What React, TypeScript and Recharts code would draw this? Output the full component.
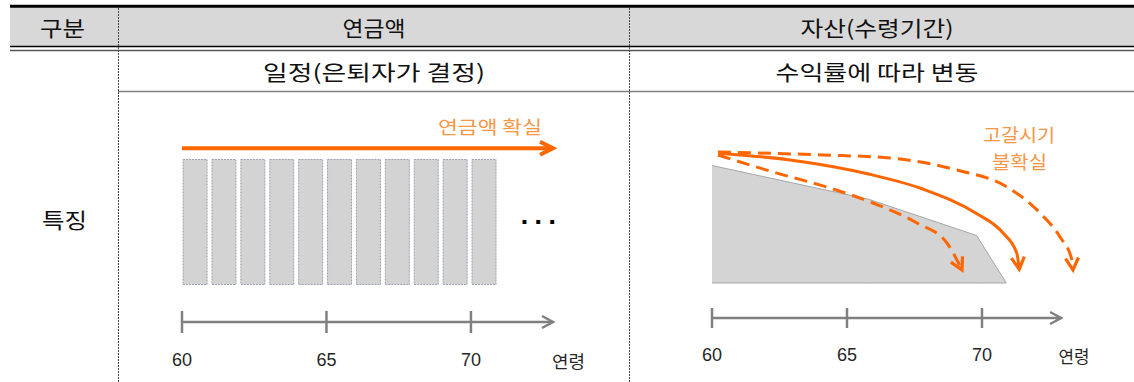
import React from 'react';
import { ComposedChart, Bar, Line, Area, XAxis, YAxis, ReferenceLine } from 'recharts';

// ---- table texts ----
const headerLabels = ['구분', '연금액', '자산(수령기간)'];
const subLabels = ['일정(은퇴자가 결정)', '수익률에 따라 변동'];
const rowLabel = '특징';
const axisTitle = '연령';
const ageTicks = [60, 65, 70];

// ---- left panel: annuity (fixed payments) ----
const annuityAges = [60, 61, 62, 63, 64, 65, 66, 67, 68, 69, 70];
const annuityBase = [3, 3, 3, 3, 3, 3, 3, 3, 3, 3, 3];
const annuityTop = [13, 13, 13, 13, 13, 13, 13, 13, 13, 13, 13];
const annuityNote = '연금액 확실';
const certainArrowX = [60, 72.84];
const certainArrowY = [13.9, 13.9];
const annuityAxisEnd = 72.84;

// ---- right panel: drawdown of assets ----
const assetAges = [60, 65.8, 69.8, 70.9];
const assetTop = [12.2, 9.5, 6.6, 2.8];
const assetBase = [2.8, 2.8, 2.8, 2.8];
const expectedX = [60.23, 62.89, 65.79, 67.83, 69.78, 70.79, 71.29, 71.38];
const expectedY = [13.18, 12.64, 11.52, 10.3, 8.38, 6.78, 5.18, 3.9];
const optimisticX = [60.22, 64.11, 66.59, 69.07, 70.93, 72.15, 72.89, 73.33, 73.37];
const optimisticY = [13.28, 13.04, 12.8, 11.84, 10.48, 8.4, 6.48, 4.64, 3.84];
const pessimisticX = [60.22, 62.26, 64.37, 65.96, 67.59, 68.7, 69.26];
const pessimisticY = [13.04, 11.68, 10.4, 9.2, 7.6, 6.0, 3.84];
const depletionNote = ['고갈시기', '불확실'];
const assetAxisEnd = 72.93;

const ORANGE = '#ff6600';
const ORANGE_TEXT = '#f79646';
const AXIS_GRAY = '#808080';
const KR = '"Noto Sans CJK KR", "Noto Sans", sans-serif';
const NUM = '"Liberation Sans", Arial, sans-serif';

const BAR_OFFSET = 0.44;
const BAR_WIDTH = 24;

const toPts = (xs: number[], ys: number[]) => xs.map((x, i) => ({ x, y: ys[i] }));

const annuityData = annuityAges.map((a, i) => ({ x: a + BAR_OFFSET, range: [annuityBase[i], annuityTop[i]] }));
const certainArrow = toPts(certainArrowX, certainArrowY);
const assetData = assetAges.map((a, i) => ({ x: a, band: [assetBase[i], assetTop[i]] }));
const expected = toPts(expectedX, expectedY);
const optimistic = toPts(optimisticX, optimisticY);
const pessimistic = toPts(pessimisticX, pessimisticY);

const AgeTick = (props: any) => {
  const { x, y, payload, reach, gap } = props;
  return (
    <g>
      <line x1={x} x2={x} y1={y - reach} y2={y + reach} stroke={AXIS_GRAY} strokeWidth={2.5} />
      <text x={x} y={y + gap} textAnchor="middle" dominantBaseline="central" fontFamily={NUM} fontSize={18} fill="#262626">
        {payload.value}
      </text>
    </g>
  );
};

const PaymentBar = (props: any) => {
  const { x, y, width, height } = props;
  const cx = x + width / 2;
  return (
    <rect x={cx - BAR_WIDTH / 2} y={y} width={BAR_WIDTH} height={height} fill="#d3d3d3" stroke="#9ca2b3" strokeWidth={1} strokeDasharray="2 1" />
  );
};

const Markers = ({ p }: { p: string }) => (
  <defs>
    <marker id={`${p}-ax`} markerUnits="userSpaceOnUse" viewBox="-2 -2 16 16" markerWidth={16} markerHeight={16} refX={11} refY={6} orient="auto">
      <path d="M0,0 L11,6 L0,12" fill="none" stroke={AXIS_GRAY} strokeWidth={2.5} />
    </marker>
    <marker id={`${p}-or`} markerUnits="userSpaceOnUse" viewBox="-3 -3 20 20" markerWidth={20} markerHeight={20} refX={12} refY={6.5} orient="auto">
      <path d="M0,0 L12,6.5 L0,13" fill="none" stroke={ORANGE} strokeWidth={3.2} strokeDasharray="none" />
    </marker>
    <marker id={`${p}-orb`} markerUnits="userSpaceOnUse" viewBox="-3 -3 20 20" markerWidth={20} markerHeight={20} refX={13} refY={6.5} orient="auto">
      <path d="M0,0 L13,6.5 L0,13" fill="none" stroke={ORANGE} strokeWidth={4} />
    </marker>
  </defs>
);

const T = ({ x, y, size, len, fill = '#111', children }: any) => (
  <text x={x} y={y} textAnchor="middle" dominantBaseline="central" fontFamily={KR} fontSize={size} fill={fill} textLength={len} lengthAdjust="spacingAndGlyphs">
    {children}
  </text>
);

export default function App() {
  return (
    <div style={{ position: 'fixed', left: 0, top: 0, width: 1134, height: 382, overflow: 'hidden', background: '#fff' }}>
      {/* table frame */}
      <svg width={1134} height={382} style={{ position: 'absolute', left: 0, top: 0 }}>
        <rect x={10} y={7} width={1124} height={39} fill="#d8d8d8" />
        <line x1={10} x2={1134} y1={6.3} y2={6.3} stroke="#000" strokeWidth={3} />
        <line x1={10} x2={1134} y1={46.5} y2={46.5} stroke="#000" strokeWidth={1.5} />
        <line x1={10} x2={1134} y1={50.5} y2={50.5} stroke="#555" strokeWidth={1.5} />
        <line x1={118} x2={1134} y1={91.5} y2={91.5} stroke="#808080" strokeWidth={1.5} />
        <line x1={118.5} x2={118.5} y1={8} y2={382} stroke="#444" strokeWidth={1} strokeDasharray="2 1" />
        <line x1={629.5} x2={629.5} y1={8} y2={382} stroke="#444" strokeWidth={1} strokeDasharray="2 1" />
        <T x={62.5} y={27} size={21} len={45}>{headerLabels[0]}</T>
        <T x={374} y={27} size={21} len={63}>{headerLabels[1]}</T>
        <T x={877} y={27} size={21} len={153}>{headerLabels[2]}</T>
        <T x={374} y={71} size={21} len={222}>{subLabels[0]}</T>
        <T x={877} y={71} size={21} len={203}>{subLabels[1]}</T>
        <T x={64.5} y={219} size={21} len={45}>{rowLabel}</T>
        <T x={490} y={126} size={18} len={104} fill={ORANGE_TEXT}>{annuityNote}</T>
        <text x={541} y={224} textAnchor="middle" fontFamily='"DejaVu Sans", sans-serif' fontWeight="bold" fontSize={22} letterSpacing={5.5} fill="#000">...</text>
        <T x={568.5} y={360} size={17} len={33} fill="#262626">{axisTitle}</T>
        <T x={1019} y={134} size={18} len={72} fill={ORANGE_TEXT}>{depletionNote[0]}</T>
        <T x={1019.5} y={161} size={18} len={55} fill={ORANGE_TEXT}>{depletionNote[1]}</T>
        <T x={1074} y={355} size={17} len={31} fill="#262626">{axisTitle}</T>
      </svg>

      {/* left panel */}
      <div style={{ position: 'absolute', left: 0, top: 0 }}>
        <ComposedChart width={600} height={382} data={annuityData} margin={{ top: 97, right: 47, bottom: 0, left: 182 }}>
          <Markers p="l" />
          <XAxis
            type="number"
            dataKey="x"
            domain={[60, annuityAxisEnd]}
            ticks={ageTicks}
            interval={0}
            height={60}
            axisLine={false}
            tickLine={false}
            tickSize={0}
            tickMargin={0}
            tick={(p: any) => <AgeTick {...p} reach={11} gap={38} />}
          />
          <YAxis hide type="number" domain={[0, 18]} />
          <Bar dataKey="range" barSize={BAR_WIDTH} shape={PaymentBar} isAnimationActive={false} />
          <ReferenceLine segment={[{ x: 60, y: 0 }, { x: annuityAxisEnd, y: 0 }]} stroke={AXIS_GRAY} strokeWidth={2.5} markerEnd="url(#l-ax)" ifOverflow="visible" />
          <Line data={certainArrow} dataKey="y" type="linear" stroke={ORANGE} strokeWidth={4} dot={false} activeDot={false} markerEnd="url(#l-orb)" isAnimationActive={false} />
        </ComposedChart>
      </div>

      {/* right panel */}
      <div style={{ position: 'absolute', left: 640, top: 0 }}>
        <ComposedChart width={494} height={382} data={assetData} margin={{ top: 93, right: 44, bottom: 0, left: 72 }}>
          <Markers p="r" />
          <XAxis
            type="number"
            dataKey="x"
            domain={[60, 74]}
            ticks={ageTicks}
            interval={0}
            height={64}
            axisLine={false}
            tickLine={false}
            tickSize={0}
            tickMargin={0}
            tick={(p: any) => <AgeTick {...p} reach={10} gap={37} />}
          />
          <YAxis hide type="number" domain={[0, 18]} />
          <Area dataKey="band" type="linear" fill="#d4d4d4" fillOpacity={1} stroke="#a6a6a6" strokeWidth={1} dot={false} activeDot={false} isAnimationActive={false} />
          <ReferenceLine segment={[{ x: 60, y: 0 }, { x: assetAxisEnd, y: 0 }]} stroke={AXIS_GRAY} strokeWidth={2.5} markerEnd="url(#r-ax)" ifOverflow="visible" />
          <Line data={optimistic} dataKey="y" type="monotone" stroke={ORANGE} strokeWidth={3} strokeDasharray="13 7" dot={false} activeDot={false} markerEnd="url(#r-or)" isAnimationActive={false} />
          <Line data={pessimistic} dataKey="y" type="monotone" stroke={ORANGE} strokeWidth={3} strokeDasharray="13 7" dot={false} activeDot={false} markerEnd="url(#r-or)" isAnimationActive={false} />
          <Line data={expected} dataKey="y" type="monotone" stroke={ORANGE} strokeWidth={3} dot={false} activeDot={false} markerEnd="url(#r-or)" isAnimationActive={false} />
        </ComposedChart>
      </div>
    </div>
  );
}
